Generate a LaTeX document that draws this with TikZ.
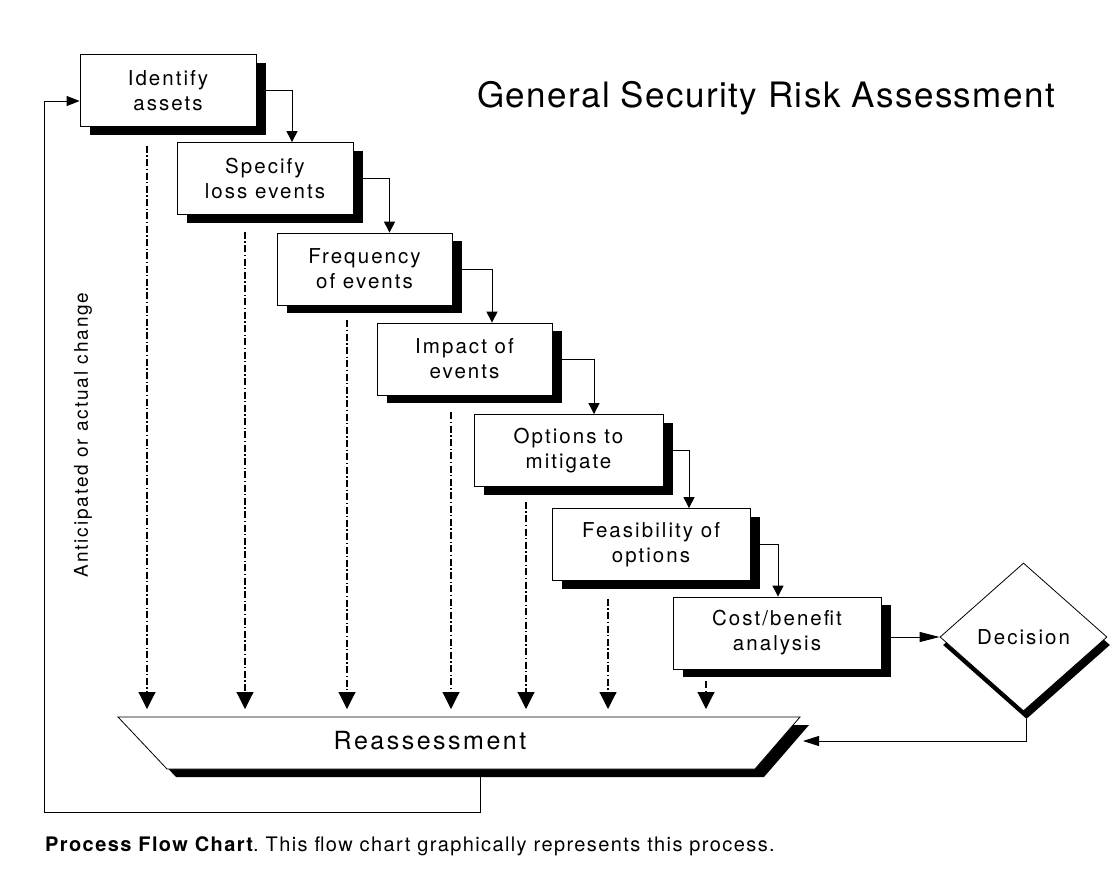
\documentclass[tikz,border=0pt]{standalone}
\usepackage{fontspec}
\setmainfont{TeX Gyre Heros}
\newfontfamily\boxff[LetterSpace=10]{TeX Gyre Heros}
\newfontfamily\titleff[LetterSpace=4]{TeX Gyre Heros}
\newfontfamily\capff[LetterSpace=7]{TeX Gyre Heros}
\usetikzlibrary{arrows.meta,shapes.geometric,shadows}
\tikzset{
  box/.style={draw, fill=white, line width=0.8pt, minimum height=72pt, inner sep=0pt,
    align=center, font=\boxff\fontsize{20.5}{25}\selectfont,
    drop shadow={shadow xshift=10pt, shadow yshift=-8pt, fill=black, opacity=1}},
  conn/.style={line width=1pt, -{Triangle[length=11pt,width=11pt]}},
  dd/.style={line width=1.1pt, dash pattern=on 7pt off 2.5pt on 1.3pt off 2.5pt,
    -{Triangle[length=17pt,width=17pt]}},
  lbl/.style={font=\boxff\fontsize{19}{23}\selectfont, inner sep=0pt}
}
\begin{document}
\frenchspacing
\begin{tikzpicture}[x=1pt,y=-1pt]
\useasboundingbox (0,0) rectangle (1117,870);

% title
\node[font=\titleff\fontsize{35}{40}\selectfont, inner sep=0pt] (title) at (766,98) {General Security Risk Assessment};

% process boxes
\node[box, minimum width=176pt] (b1) at (168,90.5) {Identify\\assets};
\node[box, minimum width=176pt] (b2) at (265,178.5) {Specify\\loss events};
\node[box, minimum width=175pt] (b3) at (364.5,269) {Frequency\\of events};
\node[box, minimum width=175pt] (b4) at (464.5,359) {Impact of\\events};
\node[box, minimum width=189pt] (b5) at (568.5,450.5) {Options to\\mitigate};
\node[box, minimum width=198pt] (b6) at (651,544.5) {Feasibility of\\options};
\node[box, minimum width=208pt] (b7) at (777,633) {Cost/benefit\\analysis};

% decision
\node[diamond, draw, fill=white, line width=0.8pt, minimum width=167pt, minimum height=148pt,
  inner sep=0pt, font=\boxff\fontsize{20.5}{25}\selectfont,
  drop shadow={shadow xshift=3pt, shadow yshift=-8pt, fill=black, opacity=1}] (dec) at (1023.5,637) {Decision};

% reassessment
\fill (127,725) -- (809,725) -- (764,777) -- (176,777) -- cycle;
\draw[fill=white, line width=0.8pt] (118,717) -- (800,717) -- (755,769) -- (167,769) -- cycle;
\node[font=\boxff\fontsize{25}{30}\selectfont, inner sep=0pt] (rs) at (430,741) {Reassessment};
\coordinate (rtop) at (0,709);
\coordinate (rsb) at (480,777);
\coordinate (rsr) at (803,741);
\coordinate (lp) at (44,812);

% step connectors
\draw[conn] (b1.east) -| ([xshift=27pt]b2.north);
\draw[conn] (b2.east) -| ([xshift=25pt]b3.north);
\draw[conn] (b3.east) -| ([xshift=27.5pt]b4.north);
\draw[conn] (b4.east) -| ([xshift=25.5pt]b5.north);
\draw[conn] (b5.east) -| ([xshift=38pt]b6.north);
\draw[conn] (b6.east) -| ([xshift=1pt]b7.north);
\draw[line width=1pt, -{Triangle[length=20pt,width=10pt]}] (b7.east |- dec.west) -- (dec.west);
\draw[line width=1pt, -{Triangle[length=16pt,width=10pt]}] ([xshift=3pt,yshift=-8pt]dec.south) |- (rsr);

% dashed arrows to reassessment
\coordinate (s1) at ([xshift=-21pt,yshift=-19pt]b1.south);
\coordinate (s2) at ([xshift=-20pt,yshift=-17pt]b2.south);
\coordinate (s3) at ([xshift=-17.5pt,yshift=-15pt]b3.south);
\coordinate (s4) at ([xshift=-13.5pt,yshift=-17pt]b4.south);
\coordinate (s5) at ([xshift=-42.5pt,yshift=-15pt]b5.south);
\coordinate (s6) at ([xshift=-43pt,yshift=-18pt]b6.south);
\coordinate (s7) at ([xshift=-71pt,yshift=-12pt]b7.south);
\foreach \s in {s1,s2,s3,s4,s5,s6,s7} {\draw[dd] (\s) -- (\s |- rtop);}

% feedback loop
\draw[line width=1pt, -{Triangle[length=13pt,width=10pt]}] (rsb) |- (lp) |- ([yshift=-10.5pt]b1.west);
\node[lbl, rotate=90] (chg) at (83,435) {Anticipated or actual change};

% caption
\node[anchor=base west, inner sep=0pt, font=\capff\fontsize{20}{24}\selectfont] (cap) at (45,851)
  {\textbf{Process Flow Chart}. This flow chart graphically represents this process.};
\end{tikzpicture}
\end{document}
